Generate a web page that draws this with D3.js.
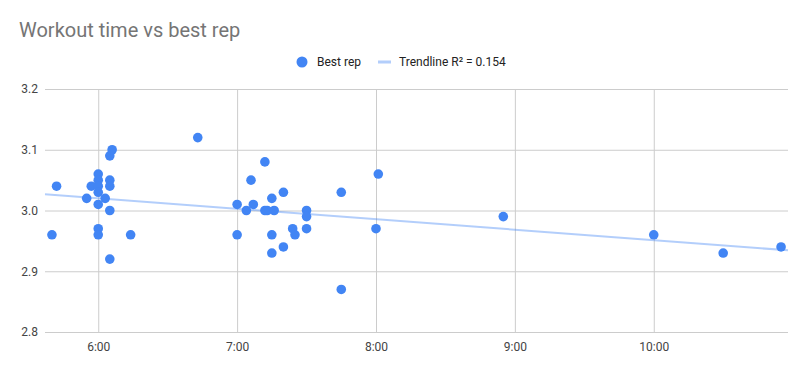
<!DOCTYPE html>
<html>
<head>
<meta charset="utf-8">
<script src="https://cdn.jsdelivr.net/npm/d3@7"></script>
<style>
  body { margin: 0; background: #fff; }
  svg { font-family: Roboto, Arial, sans-serif; }
</style>
</head>
<body>
<div id="chart"></div>
<script>
// workout time (m:ss) and best rep
var times = [
  '5:40', '5:42', '5:55', '5:57',
  '6:00', '6:00', '6:00', '6:00', '6:00', '6:00', '6:00',
  '6:03', '6:05', '6:06', '6:05', '6:05', '6:05', '6:05', '6:14',
  '6:43',
  '7:00', '7:00', '7:04', '7:06', '7:07', '7:12', '7:12', '7:13', '7:15', '7:15', '7:15', '7:16',
  '7:20', '7:20', '7:24', '7:25', '7:30', '7:30', '7:30',
  '7:45', '7:45', '8:00', '8:01',
  '8:55', '10:00', '10:30', '10:55'
]
var bestRep = [
  2.96, 3.04, 3.02, 3.04,
  3.06, 3.05, 3.04, 3.03, 3.01, 2.97, 2.96,
  3.02, 3.09, 3.10, 3.05, 3.04, 3.00, 2.92, 2.96,
  3.12,
  3.01, 2.96, 3.00, 3.05, 3.01, 3.08, 3.00, 3.00, 3.02, 2.96, 2.93, 3.00,
  3.03, 2.94, 2.97, 2.96, 3.00, 2.99, 2.97,
  3.03, 2.87, 2.97, 3.06,
  2.99, 2.96, 2.93, 2.94
]
var yTicks = [2.8, 2.9, 3.0, 3.1, 3.2]
var xTicks = ['6:00', '7:00', '8:00', '9:00', '10:00']
var rSquaredLabel = 'Trendline R\u00b2 = 0.154'

var toSec = function(t) {
  var p = t.split(':')
  return +p[0] * 60 + +p[1]
}
var fmt = function(s) {
  return Math.floor(s / 60) + ':' + d3.format('02')(s % 60)
}

var data = times.map(function(t, i) {
  return { sec: toSec(t), rep: bestRep[i] }
})

var fullWidth = 807
var fullHeight = 371
var margin = { top: 89, left: 45, right: 19, bottom: 39 }
var width = fullWidth - margin.left - margin.right
var height = fullHeight - margin.top - margin.bottom

var svg = d3
  .select('#chart')
  .append('svg')
  .attr('width', fullWidth)
  .attr('height', fullHeight)

var xPositionScale = d3.scaleLinear().domain([337, 658]).range([0, width])
var yPositionScale = d3.scaleLinear().domain([2.8, 3.2]).range([height, 0])

// title
svg
  .append('text')
  .text('Workout time vs best rep')
  .attr('x', 19)
  .attr('y', 37)
  .attr('font-size', 20)
  .attr('fill', '#757575')

// legend
var legend = svg.append('g').attr('font-size', 12).attr('fill', '#222')
legend
  .append('circle')
  .attr('cx', 302)
  .attr('cy', 62)
  .attr('r', 5.5)
  .attr('fill', '#4285f4')
legend
  .append('text')
  .text('Best rep')
  .attr('x', 317)
  .attr('y', 66)
legend
  .append('line')
  .attr('x1', 378)
  .attr('x2', 391)
  .attr('y1', 62)
  .attr('y2', 62)
  .attr('stroke', '#4285f4')
  .attr('stroke-opacity', 0.4)
  .attr('stroke-width', 3)
legend
  .append('text')
  .text(rSquaredLabel)
  .attr('x', 399)
  .attr('y', 66)

var g = svg
  .append('g')
  .attr('transform', 'translate(' + margin.left + ',' + margin.top + ')')

// gridlines via axes
var yAxis = d3
  .axisLeft(yPositionScale)
  .tickValues(yTicks)
  .tickSize(-width)
  .tickPadding(7)
  .tickFormat(d3.format('.1f'))
g.append('g')
  .attr('class', 'axis y-axis')
  .call(yAxis)

var xAxis = d3
  .axisBottom(xPositionScale)
  .tickValues(xTicks.map(toSec))
  .tickSize(-height)
  .tickPadding(10)
  .tickFormat(fmt)
g.append('g')
  .attr('class', 'axis x-axis')
  .attr('transform', 'translate(0,' + height + ')')
  .call(xAxis)

g.selectAll('.axis .domain').remove()
g.selectAll('.axis line').attr('stroke', '#cccccc')
g.selectAll('.axis text')
  .attr('fill', '#444')
  .attr('font-size', 12)
  .attr('font-family', 'Roboto, Arial, sans-serif')

// linear trendline
var mx = d3.mean(data, d => d.sec)
var my = d3.mean(data, d => d.rep)
var slope =
  d3.sum(data, d => (d.sec - mx) * (d.rep - my)) /
  d3.sum(data, d => (d.sec - mx) * (d.sec - mx))
var intercept = my - slope * mx
var dom = xPositionScale.domain()
g.append('path')
  .datum(dom)
  .attr(
    'd',
    d3
      .line()
      .x(d => xPositionScale(d))
      .y(d => yPositionScale(intercept + slope * d))
  )
  .attr('stroke', '#4285f4')
  .attr('stroke-opacity', 0.4)
  .attr('stroke-width', 2)
  .attr('fill', 'none')

// points
g.selectAll('.dot')
  .data(data)
  .enter()
  .append('circle')
  .attr('class', 'dot')
  .attr('cx', d => xPositionScale(d.sec))
  .attr('cy', d => yPositionScale(d.rep))
  .attr('r', 4.8)
  .attr('fill', '#4285f4')
</script>
</body>
</html>
